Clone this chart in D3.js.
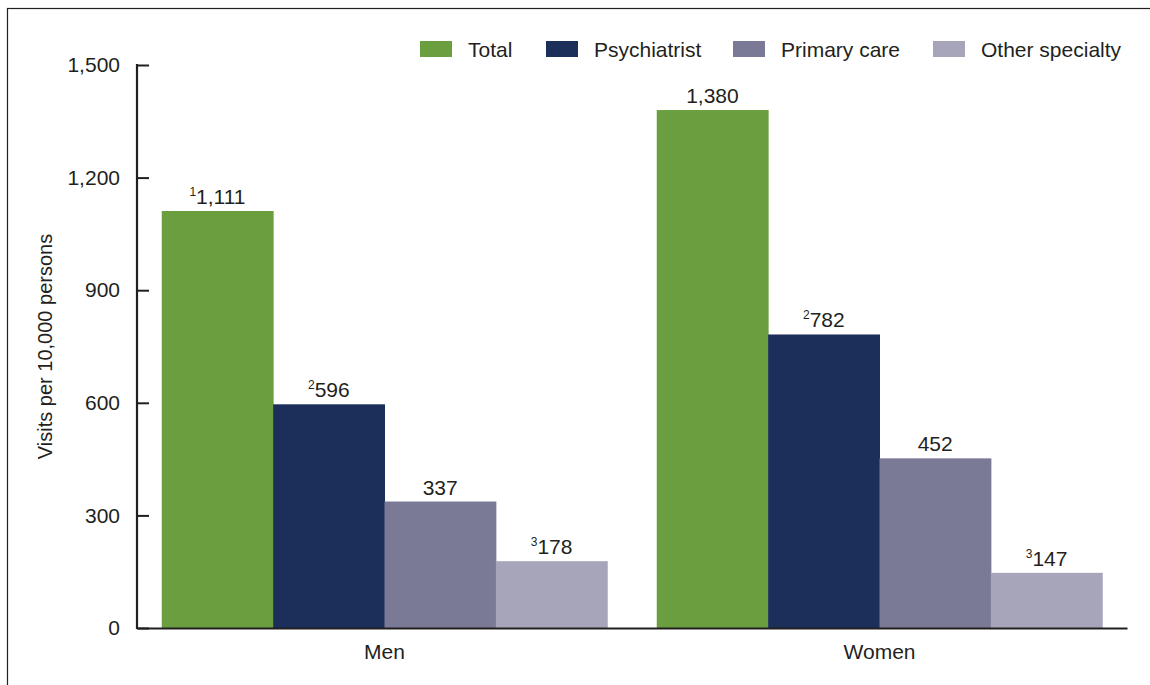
<!DOCTYPE html>
<html>
<head>
<meta charset="utf-8">
<script src="https://cdn.jsdelivr.net/npm/d3@7"></script>
<style>
  body { margin: 0; background: #fff; }
  text { font-family: "Liberation Sans", Arial, sans-serif; fill: #231f20; }
</style>
</head>
<body>
<svg id="chart" width="1150" height="685"></svg>
<script>
const groups = ["Men", "Women"];
const seriesNames = ["Total", "Psychiatrist", "Primary care", "Other specialty"];
const seriesColors = ["#6a9e3f", "#1c2e5a", "#7a7a96", "#a7a5ba"];
const menValues = [1111, 596, 337, 178];
const womenValues = [1380, 782, 452, 147];
const menNotes = ["1", "2", "", "3"];
const womenNotes = ["", "2", "", "3"];
const yTicks = [0, 300, 600, 900, 1200, 1500];

const svg = d3.select('#chart');

// outer frame (left and top edges show)
svg.append('rect')
  .attr('x', 7.5).attr('y', 8.5)
  .attr('width', 1200).attr('height', 700)
  .attr('fill', 'none').attr('stroke', '#231f20').attr('stroke-width', 1.2);

const x0 = d3.scaleBand().domain(groups).range([137, 1127])
  .paddingInner(0.1).paddingOuter(0.05);
const x1 = d3.scaleBand().domain(seriesNames).range([0, x0.bandwidth()]);
const y = d3.scaleLinear().domain([0, 1500]).range([628, 65]);

const rows = groups.map((g, gi) => {
  let vals = gi == 0 ? menValues : womenValues;
  let notes = gi == 0 ? menNotes : womenNotes;
  return seriesNames.map((s, i) => ({group: g, series: s, value: vals[i], note: notes[i], color: seriesColors[i]}));
});

let gGroups = svg.selectAll('.grp').data(rows).enter()
  .append('g').attr('class', 'grp')
  .attr('transform', (d, i) => `translate(${x0(groups[i])},0)`);

gGroups.selectAll('rect').data(d => d).enter()
  .append('rect')
  .attr('x', d => x1(d.series))
  .attr('y', d => y(d.value))
  .attr('width', x1.bandwidth() + 0.5)
  .attr('height', d => y(0) - y(d.value))
  .attr('fill', d => d.color);

let labels = gGroups.selectAll('text.val').data(d => d).enter()
  .append('text').attr('class', 'val')
  .attr('x', d => x1(d.series) + x1.bandwidth() / 2)
  .attr('y', d => y(d.value) - 7)
  .attr('text-anchor', 'middle')
  .style('font-size', '21px');
labels.append('tspan')
  .attr('font-size', '12px').attr('dy', '-8')
  .text(d => d.note);
labels.append('tspan')
  .attr('dy', d => d.note ? '8' : '0')
  .text(d => d3.format(',')(d.value));

// y axis
let yAxis = d3.axisRight(y).tickValues(yTicks).tickSize(12).tickFormat(d3.format(','));
let ya = svg.append('g').attr('transform', 'translate(137,0)').call(yAxis);
ya.select('.domain').remove();
ya.selectAll('.tick line').attr('stroke', '#231f20').attr('stroke-width', 2);
ya.selectAll('.tick text')
  .attr('x', -17).attr('text-anchor', 'end')
  .style('font-size', '21px').style('font-family', '"Liberation Sans", Arial, sans-serif')
  .attr('fill', '#231f20');
svg.append('line')
  .attr('x1', 137).attr('x2', 137).attr('y1', y(1500) - 1).attr('y2', y(0) + 1)
  .attr('stroke', '#231f20').attr('stroke-width', 2.2);

// x axis
let xAxis = d3.axisBottom(x0).tickSize(0).tickPadding(16);
let xa = svg.append('g').attr('transform', `translate(0,${y(0)})`).call(xAxis);
xa.select('.domain').attr('stroke', '#231f20').attr('stroke-width', 2.2);
xa.selectAll('.tick text')
  .style('font-size', '21px').style('font-family', '"Liberation Sans", Arial, sans-serif')
  .attr('fill', '#231f20');

svg.append('text')
  .attr('transform', `translate(52,${(y(0) + y(1500)) / 2}) rotate(-90)`)
  .attr('text-anchor', 'middle')
  .style('font-size', '20px')
  .text('Visits per 10,000 persons');

// legend
const legendX = [420, 546, 733, 933];
let leg = svg.selectAll('.leg').data(seriesNames).enter()
  .append('g').attr('class', 'leg')
  .attr('transform', (d, i) => `translate(${legendX[i]},41)`);
leg.append('rect').attr('width', 32).attr('height', 16)
  .attr('fill', (d, i) => seriesColors[i]);
leg.append('text').attr('x', 48).attr('y', 16)
  .style('font-size', '21px')
  .text(d => d);
</script>
</body>
</html>
